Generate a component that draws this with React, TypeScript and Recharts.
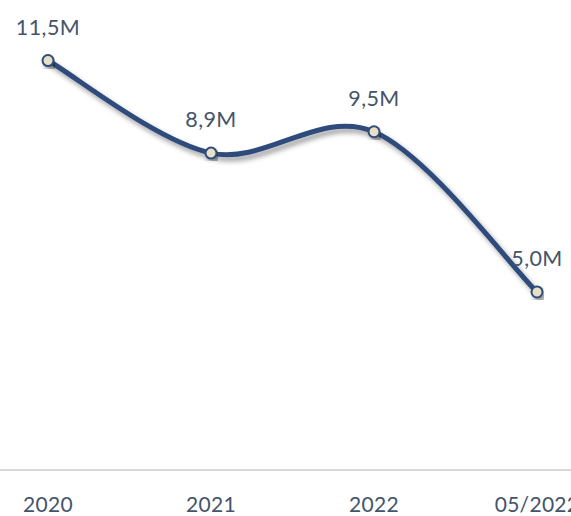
import { LineChart, Line, XAxis, YAxis, LabelList } from 'recharts'

const periods = ['2020', '2021', '2022', '05/2022']
const values = [11.5, 8.9, 9.5, 5.0]
const valueLabels = ['11,5M', '8,9M', '9,5M', '5,0M']

const data = periods.map((p, i) => ({ period: p, value: values[i], label: valueLabels[i] }))

const LINE = '#2e4b7b'
const TEXT = '#44546a'
const FONT = 'Lato, "Open Sans", sans-serif'

// Excel-like smoothing (Catmull-Rom through the points, may overshoot)
function excelSmooth(context: any) {
  let pts: number[][] = []
  return {
    areaStart() {},
    areaEnd() {},
    lineStart() {
      pts = []
    },
    point(x: number, y: number) {
      pts.push([+x, +y])
    },
    lineEnd() {
      if (!pts.length) return
      context.moveTo(pts[0][0], pts[0][1])
      for (let i = 0; i < pts.length - 1; i++) {
        const p0 = pts[Math.max(i - 1, 0)]
        const p1 = pts[i]
        const p2 = pts[i + 1]
        const p3 = pts[Math.min(i + 2, pts.length - 1)]
        context.bezierCurveTo(
          p1[0] + (p2[0] - p0[0]) / 6,
          p1[1] + (p2[1] - p0[1]) / 6,
          p2[0] - (p3[0] - p1[0]) / 6,
          p2[1] - (p3[1] - p1[1]) / 6,
          p2[0],
          p2[1],
        )
      }
    },
  }
}

export default function App() {
  return (
    <div style={{ position: 'absolute', left: 0, top: 0, width: 571, height: 516, background: '#fff' }}>
      <LineChart width={571} height={516} data={data} margin={{ top: 0, right: 0, left: 0, bottom: 0 }}>
        <defs>
          <filter id="lineShadow" x="-10%" y="-10%" width="120%" height="130%">
            <feDropShadow dx="3" dy="4" stdDeviation="2.5" floodColor="#000" floodOpacity="0.38" />
          </filter>
        </defs>
        <XAxis
          dataKey="period"
          height={46}
          padding={{ left: 48, right: 34 }}
          axisLine={{ stroke: '#d9d9d9', strokeWidth: 2 }}
          tickLine={false}
          tickSize={0}
          tickMargin={27}
          tick={{ fontSize: 21, fill: TEXT, fontFamily: FONT, letterSpacing: 0.3 }}
          interval={0}
        />
        <YAxis hide domain={[0, 13.2]} />
        <Line
          type={excelSmooth as any}
          dataKey="value"
          stroke={LINE}
          strokeWidth={5}
          filter="url(#lineShadow)"
          isAnimationActive={false}
          dot={{ r: 5.5, fill: '#e6e0c6', stroke: LINE, strokeWidth: 2, filter: 'url(#lineShadow)' }}
          activeDot={false}
        >
          <LabelList
            dataKey="label"
            position="top"
            offset={26}
            style={{ fontSize: 21.5, fill: TEXT, fontFamily: FONT, letterSpacing: 0.4 }}
          />
        </Line>
      </LineChart>
    </div>
  )
}
